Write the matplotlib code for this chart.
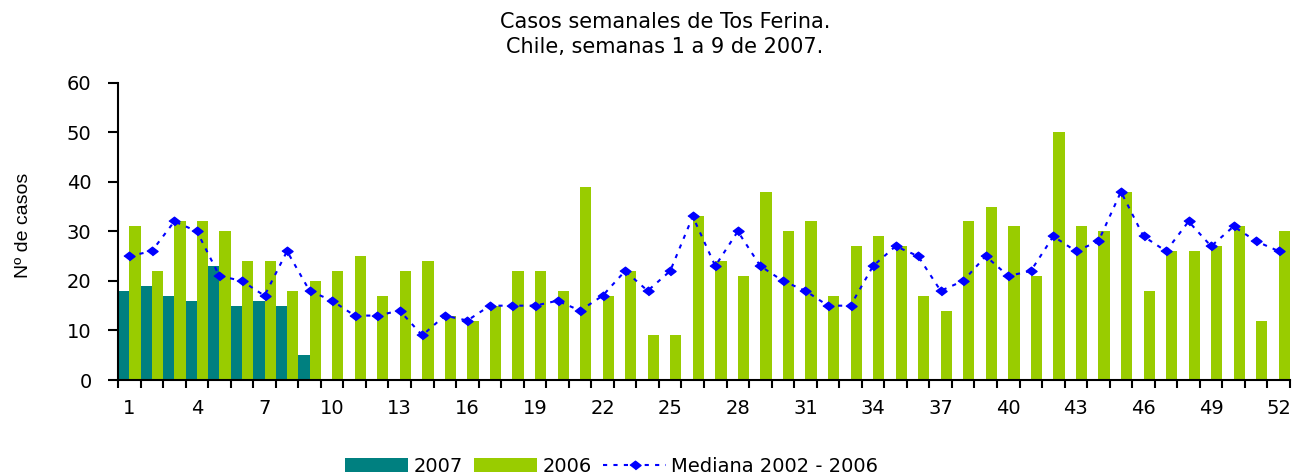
import matplotlib
matplotlib.use("Agg")
import matplotlib.pyplot as plt
from matplotlib.patches import Patch
from matplotlib.lines import Line2D
import numpy as np

# --- data ---
semanas = list(range(1, 53))
casos_2007 = [18, 19, 17, 16, 23, 15, 16, 15, 5]
casos_2006 = [31, 22, 32, 32, 30, 24, 24, 18, 20, 22, 25, 17, 22, 24, 13, 12,
              15, 22, 22, 18, 39, 17, 22, 9, 9, 33, 24, 21, 38, 30, 32, 17,
              27, 29, 27, 17, 14, 32, 35, 31, 21, 50, 31, 30, 38, 18, 26, 26,
              27, 31, 12, 30]
mediana = [25, 26, 32, 30, 21, 20, 17, 26, 18, 16, 13, 13, 14, 9, 13, 12,
           15, 15, 15, 16, 14, 17, 22, 18, 22, 33, 23, 30, 23, 20, 18, 15,
           15, 23, 27, 25, 18, 20, 25, 21, 22, 29, 26, 28, 38, 29, 26, 32,
           27, 31, 28, 26]
etiquetas = list(range(1, 53, 3))

COL_2007 = "#008080"
COL_2006 = "#99CC00"
COL_MED = "#0000FF"

plt.rcParams['font.family'] = ['DejaVu Sans']

fig = plt.figure(figsize=(12.96, 4.75), dpi=100)
ax = fig.add_axes([118 / 1296, 95 / 475, 1172 / 1296, 297.3 / 475])

w = 0.5
x07 = np.arange(1, len(casos_2007) + 1)
x06 = np.array(semanas)
ax.bar(x07 - w / 2, casos_2007, width=w, color=COL_2007, linewidth=0)
ax.bar(x06 + w / 2, casos_2006, width=w, color=COL_2006, linewidth=0)

diamante = [(-1.3, 0), (0, 1), (1.3, 0), (0, -1)]
ax.plot(semanas, mediana, color=COL_MED, linestyle=(0, (2, 3)), linewidth=1.5,
        marker=diamante, markersize=8, markerfacecolor=COL_MED,
        markeredgecolor=COL_MED)

ax.set_xlim(0.5, 52.5)
ax.set_ylim(0, 60)
ax.set_yticks(range(0, 61, 10))

# ticks on category borders, labels on centres
ax.set_xticks(np.arange(0.5, 53, 1))
ax.set_xticklabels([])
ax.set_xticks(etiquetas, minor=True)
ax.set_xticklabels([str(e) for e in etiquetas], minor=True)
ax.tick_params(axis='x', which='major', length=6, width=1.5, direction='out')
ax.tick_params(axis='x', which='minor', length=0, pad=14, labelsize=14)
ax.tick_params(axis='y', length=7, width=1.5, direction='out', pad=12,
               labelsize=14)

for s in ['top', 'right']:
    ax.spines[s].set_visible(False)
for s in ['left', 'bottom']:
    ax.spines[s].set_linewidth(1.5)

ax.set_ylabel('Nº de casos', fontsize=14, family=['Liberation Sans'])
ax.yaxis.set_label_coords(-86 / 1172, 0.52)

fig.text(665 / 1296, 1 - 12 / 475,
         'Casos semanales de Tos Ferina.\nChile, semanas 1 a 9 de 2007.',
         ha='center', va='top', fontsize=15, linespacing=1.3)

handles = [
    Patch(facecolor=COL_2007, edgecolor='none', label='2007'),
    Patch(facecolor=COL_2006, edgecolor='none', label='2006'),
    Line2D([0], [0], color=COL_MED, linestyle=(0, (2, 3)), linewidth=1.5,
           marker=diamante, markersize=8, label='Mediana 2002 - 2006'),
]
fig.legend(handles=handles, loc='center', ncol=3,
           bbox_to_anchor=(612 / 1296, 1 - 466 / 475), frameon=False,
           fontsize=14, handlelength=3.2, handleheight=0.7,
           handletextpad=0.3, columnspacing=0.6, borderpad=0)

fig.savefig('out.png', dpi=100)
plt.close(fig)
